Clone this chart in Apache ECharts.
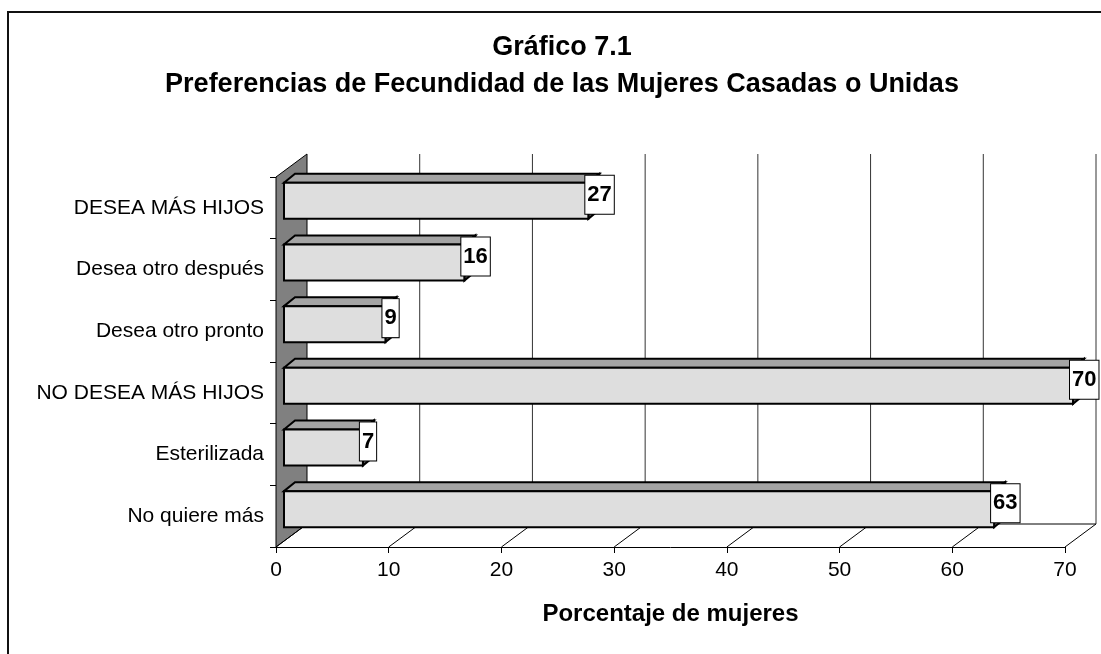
<!DOCTYPE html>
<html>
<head>
<meta charset="utf-8">
<script src="https://cdn.jsdelivr.net/npm/echarts@6/dist/echarts.min.js"></script>
<style>
html, body { margin: 0; padding: 0; background: #fff; }
#main { width: 1101px; height: 654px; }
</style>
</head>
<body>
<div id="main"></div>
<script>
const categories = ['DESEA MÁS HIJOS', 'Desea otro después', 'Desea otro pronto', 'NO DESEA MÁS HIJOS', 'Esterilizada', 'No quiere más']
const values = [27, 16, 9, 70, 7, 63]
const xTicks = [0, 10, 20, 30, 40, 50, 60, 70]

const FONT = '"Liberation Sans", Arial, sans-serif'
// fake 3d: depth of the box and shift/depth of each bar (px)
const DEPTH = [31, -23]
const BAR_SHIFT = [8, -7]
const BAR_DEPTH = [11, -9]

const chart = echarts.init(document.getElementById('main'))

function renderWalls(params, api) {
  const cs = params.coordSys
  const fx = api.coord([api.value(0), 0])[0]
  const top = cs.y
  const bottom = cs.y + cs.height
  const children = []
  if (params.dataIndex === 0) {
    // left wall
    children.push({
      type: 'polygon',
      shape: { points: [[cs.x, top], [cs.x + DEPTH[0], top + DEPTH[1]], [cs.x + DEPTH[0], bottom + DEPTH[1]], [cs.x, bottom]] },
      style: { fill: '#808080', stroke: '#000', lineWidth: 1 }
    })
    // back edge of the floor
    children.push({
      type: 'line',
      shape: { x1: cs.x + DEPTH[0], y1: bottom + DEPTH[1], x2: cs.x + cs.width + DEPTH[0], y2: bottom + DEPTH[1] },
      style: { stroke: '#000', lineWidth: 1 }
    })
  } else {
    // gridline on the back wall
    children.push({
      type: 'line',
      shape: { x1: fx + DEPTH[0], y1: top + DEPTH[1], x2: fx + DEPTH[0], y2: bottom + DEPTH[1] },
      style: { stroke: '#333', lineWidth: 1 }
    })
  }
  // floor line from the tick to the back
  children.push({
    type: 'line',
    shape: { x1: fx, y1: bottom, x2: fx + DEPTH[0], y2: bottom + DEPTH[1] },
    style: { stroke: '#000', lineWidth: 1 }
  })
  return { type: 'group', children: children }
}

function renderBar(params, api) {
  const start = api.coord([0, api.value(1)])
  const end = api.coord([api.value(0), api.value(1)])
  const h = api.size([0, 1])[1] * 0.585
  const x0 = start[0] + BAR_SHIFT[0]
  const x1 = end[0] + BAR_SHIFT[0]
  const yt = start[1] - h / 2 + BAR_SHIFT[1]
  const yb = yt + h
  const dx = BAR_DEPTH[0]
  const dy = BAR_DEPTH[1]
  return {
    type: 'group',
    children: [
      {
        type: 'polygon',
        shape: { points: [[x0, yt], [x0 + dx, yt + dy], [x1 + dx, yt + dy], [x1, yt]] },
        style: { fill: '#a4a4a4', stroke: '#000', lineWidth: 2 }
      },
      {
        type: 'polygon',
        shape: { points: [[x1, yt], [x1 + dx, yt + dy], [x1 + dx, yb + dy], [x1, yb]] },
        style: { fill: '#5a5a5a', stroke: '#000', lineWidth: 2 }
      },
      {
        type: 'rect',
        shape: { x: x0, y: yt, width: x1 - x0, height: h },
        style: { fill: '#dedede', stroke: '#000', lineWidth: 2 }
      },
      {
        type: 'text',
        style: {
          text: String(api.value(0)),
          x: x1 - 3,
          y: yt - 7,
          align: 'left',
          verticalAlign: 'top',
          font: 'bold 22px ' + FONT,
          fill: '#000',
          lineHeight: 20,
          backgroundColor: '#fff',
          borderColor: '#000',
          borderWidth: 1,
          padding: [9, 2, 9, 2]
        }
      }
    ]
  }
}

const option = {
  backgroundColor: '#fff',
  animation: false,
  title: {
    text: 'Gráfico 7.1\nPreferencias de Fecundidad de las Mujeres Casadas o Unidas',
    left: 557,
    textAlign: 'center',
    top: 24,
    textStyle: {
      fontFamily: FONT,
      fontWeight: 'bold',
      fontSize: 27,
      lineHeight: 37,
      color: '#000'
    }
  },
  graphic: [
    {
      type: 'rect',
      z: -10,
      shape: { x: 8, y: 12, width: 1200, height: 800 },
      style: { fill: 'none', stroke: '#111', lineWidth: 2 }
    }
  ],
  grid: {
    left: 276,
    right: 36,
    top: 177,
    bottom: 107
  },
  xAxis: {
    type: 'value',
    min: 0,
    max: 70,
    interval: 10,
    name: 'Porcentaje de mujeres',
    nameLocation: 'middle',
    nameGap: 55,
    nameTextStyle: { fontFamily: FONT, fontWeight: 'bold', fontSize: 24, color: '#000' },
    axisLine: { show: true, lineStyle: { color: '#000', width: 1 } },
    axisTick: { show: true, length: 6, lineStyle: { color: '#000' } },
    axisLabel: { fontFamily: FONT, fontSize: 21, color: '#000', margin: 13 },
    splitLine: { show: false }
  },
  yAxis: {
    type: 'category',
    data: categories,
    inverse: true,
    axisLine: { show: true, lineStyle: { color: '#000', width: 1 } },
    axisTick: { show: true, length: 6, lineStyle: { color: '#000' } },
    axisLabel: { fontFamily: FONT, fontSize: 21, color: '#000', margin: 12 },
    splitLine: { show: false }
  },
  series: [
    {
      name: 'walls',
      type: 'custom',
      z: 1,
      silent: true,
      renderItem: renderWalls,
      data: xTicks.map(t => [t, 0])
    },
    {
      name: 'bars',
      type: 'custom',
      z: 3,
      renderItem: renderBar,
      encode: { x: 0, y: 1 },
      data: values.map((v, i) => [v, i])
    }
  ]
}

chart.setOption(option)
</script>
</body>
</html>
